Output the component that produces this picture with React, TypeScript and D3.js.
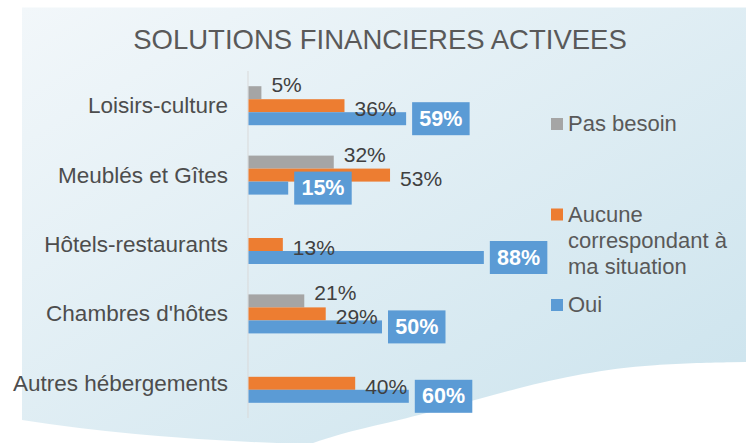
import * as d3 from 'd3'

const categories = ['Loisirs-culture', 'Meublés et Gîtes', 'Hôtels-restaurants', "Chambres d'hôtes", 'Autres hébergements']
const seriesKeys = ['pas', 'aucune', 'oui']
const legendLines = [['Pas besoin'], ['Aucune', 'correspondant à', 'ma situation'], ['Oui']]
const pasBesoin = [5, 32, null, 21, null]
const aucune = [36, 53, 13, 29, 40]
const oui = [59, 15, 88, 50, 60]
const colors = ['#a5a5a5', '#ed7d31', '#5b9bd5']

const W = 746
const H = 443
const font = "'Liberation Sans', Arial, sans-serif"

export default function App() {
  const values = [pasBesoin, aucune, oui]

  const x = d3.scaleLinear().domain([0, 100]).range([248, 516])
  const y = d3.scaleBand().domain(categories).range([71, 418])
  const inner = d3.scaleBand().domain(seriesKeys).range([-19.5, 19.5])

  // white wave at the bottom right of the backdrop
  const wave = d3.line().curve(d3.curveBasis)([
    [746, 362], [650, 364], [583, 373], [517, 388], [450, 407], [400, 420], [350, 431], [310, 444],
  ])!
  const bg = `M22,7.5 H746 V362 ${wave.replace(/^M[^LC]*/, '')} L310,444 Q150,440 22,420 Z`

  // gray labels sit higher, orange a bit lower, so they don't collide
  const labelShift = [-8, 3, 0]

  const marks = categories.flatMap((c, ci) =>
    seriesKeys.map((k, si) => {
      const v = values[si][ci]
      if (v == null) return null
      const by = y(c)! + y.bandwidth() / 2 + inner(k)!
      return { key: `${c}-${k}`, k, si, v, by, end: x(v), mid: by + inner.bandwidth() / 2 }
    }).filter((d) => d != null)
  ) as { key: string; k: string; si: number; v: number; by: number; end: number; mid: number }[]

  return (
    <svg width={W} height={H} style={{ position: 'absolute', left: 0, top: 0, background: '#fff' }} fontFamily={font}>
      <defs>
        <linearGradient id="bgGrad" x1="0" y1="0" x2="1" y2="1">
          <stop offset="0" stopColor="#f2f7fa" />
          <stop offset="1" stopColor="#cbe3ed" />
        </linearGradient>
      </defs>
      <path d={bg} fill="url(#bgGrad)" />

      <text x={380} y={49} textAnchor="middle" fontSize={27.5} fill="#595959">
        SOLUTIONS FINANCIERES ACTIVEES
      </text>

      <line x1={x(0)} x2={x(0)} y1={71} y2={418} stroke="#d9d9d9" strokeWidth={1} />

      {categories.map((c) => (
        <text key={c} x={228} y={y(c)! + y.bandwidth() / 2} textAnchor="end" dominantBaseline="central"
          fontSize={22.5} fill="#4d4d4d">
          {c}
        </text>
      ))}

      {marks.map((d) => (
        <rect key={d.key} x={x(0) + 0.5} y={d.by} width={d.end - x(0) - 0.5} height={inner.bandwidth()}
          fill={colors[d.si]} />
      ))}

      {marks.map((d) =>
        d.k === 'oui' ? (
          <g key={d.key}>
            <rect x={d.end + 6} y={d.mid - 16.5} width={57.5} height={33} fill={colors[d.si]} />
            <text x={d.end + 6 + 28.75} y={d.mid} textAnchor="middle" dominantBaseline="central"
              fontSize={21.5} fontWeight="bold" fill="#fff">
              {d.v}%
            </text>
          </g>
        ) : (
          <text key={d.key} x={d.end + 10} y={d.mid + labelShift[d.si]} dominantBaseline="central"
            fontSize={21} fill="#404040">
            {d.v}%
          </text>
        )
      )}

      {legendLines.map((lines, i) => {
        const top = 111 + i * 90.5
        return (
          <g key={i}>
            <rect x={551} y={top + 7} width={12} height={12} fill={colors[i]} />
            {lines.map((l, li) => (
              <text key={li} x={568} y={top + 20 + li * 26} fontSize={22} fill="#595959">
                {l}
              </text>
            ))}
          </g>
        )
      })}
    </svg>
  )
}
